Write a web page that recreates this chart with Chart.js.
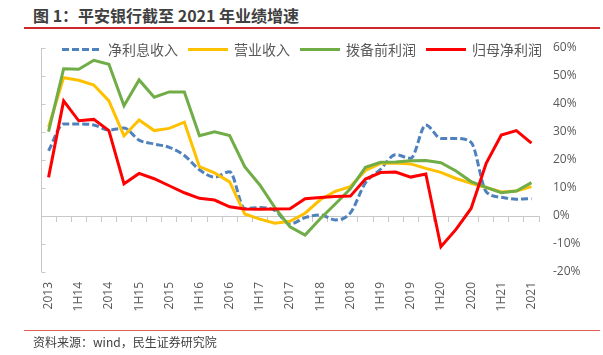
<!DOCTYPE html>
<html>
<head>
<meta charset="utf-8">
<script src="https://cdn.jsdelivr.net/npm/chart.js@4.4.1/dist/chart.umd.min.js"></script>
<style>
html,body{margin:0;padding:0;background:#fff;}
#wrap{position:relative;width:603px;height:355px;overflow:hidden;background:#fff;}
#c{position:absolute;left:0;top:0;}
.title{position:absolute;left:33px;top:5px;font-weight:bold;font-size:16px;font-family:'Noto Sans CJK SC','Noto Sans',sans-serif;color:#404040;line-height:20px;white-space:nowrap;}
.rule1{position:absolute;left:24px;top:27px;width:576px;height:2px;background:#d0262a;}
.rule2{position:absolute;left:24px;top:330px;width:576px;height:1px;background:#e0605a;}
.src{position:absolute;left:33px;top:333px;font-size:12px;font-family:'Noto Sans CJK SC','Noto Sans',sans-serif;color:#404040;line-height:17px;white-space:nowrap;}
</style>
</head>
<body>
<div id="wrap">
  <div class="title">图 1：平安银行截至 2021 年业绩增速</div>
  <div class="rule1"></div>
  <canvas id="c" width="603" height="355"></canvas>
  <div class="rule2"></div>
  <div class="src">资料来源：wind，民生证券研究院</div>
</div>
<script>
// Quarterly periods (every other one is shown as an axis label)
const categories = [
  '2013','1Q14','1H14','3Q14','2014','1Q15','1H15','3Q15','2015','1Q16','1H16','3Q16','2016',
  '1Q17','1H17','3Q17','2017','1Q18','1H18','3Q18','2018','1Q19','1H19','3Q19','2019',
  '1Q20','1H20','3Q20','2020','1Q21','1H21','3Q21','2021'
];
const seriesNames = ['净利息收入','营业收入','拨备前利润','归母净利润'];
// values in %
const netInterestIncome = [23.3,32.9,32.9,32.5,30.7,31.4,27.1,25.7,24.5,21.6,16.5,13.9,15.8,
  2.7,3.0,2.0,-2.9,-0.6,0.4,-1.4,1.1,11.8,16.7,21.9,20.6,32.5,27.7,27.7,26.3,8.7,6.7,6.0,6.2];
const operatingIncome = [31.7,49.4,48.5,46.8,41.1,28.6,34.3,30.5,31.3,33.5,17.6,15.4,12.2,
  0.7,-1.1,-2.6,-1.9,1.0,5.8,8.8,10.5,16.3,18.8,18.9,18.6,17.0,15.6,13.4,11.7,10.2,8.6,8.9,10.5];
const preProvisionProfit = [30.1,52.6,52.4,55.6,54.2,39.4,48.6,42.4,44.3,44.3,28.7,30.1,28.7,
  17.6,11.1,3.0,-3.9,-6.8,-1.0,4.3,9.7,17.4,19.2,19.3,19.7,19.8,19.0,16.1,12.3,10.2,8.3,8.9,11.9];
const netProfit = [13.8,41.1,34.0,34.5,30.5,11.5,15.2,13.3,10.8,8.3,6.3,5.7,3.3,
  2.5,2.4,2.5,2.6,6.2,6.6,7.0,7.1,13.2,15.5,15.7,13.9,15.0,-11.0,-4.8,2.7,18.8,28.9,30.5,26.0];
const yMin = -20, yMax = 60, yStep = 10;

const FONT = "'Open Sans','Noto Sans CJK SC',sans-serif";
const GRAY = '#595959';
const AXIS = '#c8c8c8';

const legendPlugin = {
  id: 'customLegend',
  afterDraw(chart) {
    const ctx = chart.ctx;
    ctx.save();
    ctx.font = "14px 'Noto Sans CJK SC',sans-serif";
    ctx.textBaseline = 'middle';
    let x = 62;
    const y = 49.5;
    chart.data.datasets.forEach(ds => {
      ctx.beginPath();
      ctx.strokeStyle = ds.borderColor;
      ctx.lineWidth = ds.borderWidth;
      ctx.setLineDash(ds.borderDash || []);
      ctx.moveTo(x, y);
      ctx.lineTo(x + 40, y);
      ctx.stroke();
      ctx.setLineDash([]);
      x += 46;
      ctx.fillStyle = GRAY;
      ctx.fillText(ds.label, x, y);
      x += ctx.measureText(ds.label).width + 10;
    });
    ctx.restore();
  }
};

const leftAxisPlugin = {
  id: 'leftAxis',
  beforeDatasetsDraw(chart) {
    const ctx = chart.ctx;
    const ys = chart.scales.y;
    const left = Math.round(chart.chartArea.left) + 0.5;
    ctx.save();
    ctx.strokeStyle = AXIS;
    ctx.lineWidth = 1;
    ctx.beginPath();
    ctx.moveTo(left, ys.getPixelForValue(yMax));
    ctx.lineTo(left, ys.getPixelForValue(yMin));
    for (let v = yMin; v <= yMax; v += yStep) {
      const py = Math.round(ys.getPixelForValue(v)) + 0.5;
      ctx.moveTo(left, py);
      ctx.lineTo(left + 4, py);
    }
    ctx.stroke();
    ctx.restore();
  }
};

new Chart(document.getElementById('c'), {
  type: 'line',
  data: {
    labels: categories,
    datasets: [
      { label: seriesNames[0], data: netInterestIncome, borderColor: '#4f81bd', borderWidth: 3,
        borderDash: [7, 3], cubicInterpolationMode: 'monotone', order: 4 },
      { label: seriesNames[1], data: operatingIncome, borderColor: '#ffc000', borderWidth: 3, order: 3 },
      { label: seriesNames[2], data: preProvisionProfit, borderColor: '#70ad47', borderWidth: 3, order: 2 },
      { label: seriesNames[3], data: netProfit, borderColor: '#ff0000', borderWidth: 3, order: 1 }
    ]
  },
  options: {
    responsive: false,
    animation: false,
    layout: { padding: { left: 41, top: 48, right: 0, bottom: 0 } },
    plugins: { legend: { display: false }, tooltip: { enabled: false } },
    elements: { point: { radius: 0 }, line: { tension: 0, fill: false } },
    scales: {
      x: {
        type: 'category', position: 'bottom', offset: true,
        grid: { display: false, drawTicks: false },
        border: { display: false },
        ticks: {
          autoSkip: false, minRotation: 90, maxRotation: 90, padding: 10,
          color: GRAY, font: { family: FONT, size: 12 },
          callback: (v, i) => (i % 2 === 0 ? categories[i] : '')
        },
        afterFit: s => { s.height = 83; }
      },
      x0: {
        type: 'category', axis: 'x', position: { y: 0 }, offset: true,
        grid: { offset: true, drawOnChartArea: false, drawTicks: true, tickLength: 5, color: AXIS },
        border: { display: true, color: AXIS, width: 1 },
        ticks: { display: false }
      },
      y: {
        position: 'right', min: yMin, max: yMax,
        grid: { display: false, drawTicks: false },
        border: { display: false },
        ticks: {
          stepSize: yStep, padding: 14, color: GRAY,
          font: { family: FONT, size: 12 },
          callback: v => v + '%'
        },
        afterFit: s => { s.width = 64; }
      }
    }
  },
  plugins: [leftAxisPlugin, legendPlugin]
});
</script>
</body>
</html>
